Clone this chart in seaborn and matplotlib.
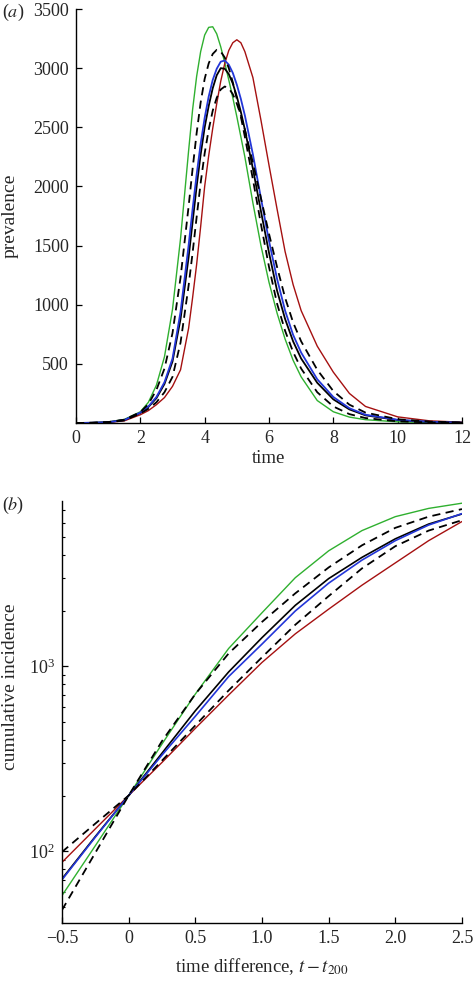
import numpy as np
import pandas as pd
import matplotlib
matplotlib.use("Agg")
import matplotlib.pyplot as plt
import seaborn as sns
from matplotlib.ticker import NullFormatter, LogLocator

# panel (a): prevalence against time
time_a = [0, 0.5, 1, 1.5, 2, 2.25, 2.5, 2.75, 3, 3.25, 3.5, 3.625, 3.75, 3.875, 4, 4.125,
          4.25, 4.375, 4.5, 4.625, 4.75, 4.875, 5, 5.125, 5.25, 5.5, 5.75, 6, 6.25, 6.5,
          6.75, 7, 7.5, 8, 8.5, 9, 10, 11, 12]
prev_green = [0, 2, 8, 30, 95, 175, 320, 560, 960, 1560, 2300, 2650, 2930, 3140, 3280, 3345,
              3350, 3290, 3180, 3045, 2900, 2750, 2590, 2420, 2250, 1860, 1500, 1190, 930, 710,
              530, 390, 190, 95, 50, 28, 10, 4, 2]
prev_dash_hi = [0, 2, 8, 28, 92, 160, 280, 460, 760, 1230, 1830, 2150, 2450, 2710, 2910, 3040,
                3120, 3155, 3140, 3090, 3000, 2880, 2740, 2590, 2420, 2060, 1680, 1320, 1010, 780,
                600, 460, 260, 140, 75, 42, 14, 5, 2]
prev_black = [0, 2, 7, 25, 85, 135, 210, 330, 520, 880, 1400, 1700, 2000, 2270, 2500, 2680,
              2830, 2940, 3000, 2995, 2950, 2870, 2760, 2630, 2480, 2150, 1790, 1440, 1120, 880,
              690, 545, 340, 200, 115, 65, 25, 9, 3]
prev_blue = [0, 2, 7, 25, 88, 140, 220, 345, 545, 940, 1500, 1810, 2100, 2360, 2580, 2760,
             2900, 2995, 3055, 3065, 3030, 2960, 2860, 2740, 2600, 2270, 1900, 1540, 1220, 950,
             745, 595, 370, 220, 125, 70, 27, 10, 3]
prev_dash_lo = [0, 2, 6, 22, 80, 120, 175, 260, 390, 680, 1160, 1440, 1740, 2030, 2280, 2480,
                2640, 2750, 2820, 2845, 2830, 2780, 2700, 2600, 2480, 2200, 1900, 1600, 1320, 1060,
                850, 690, 450, 270, 155, 88, 32, 12, 4]
prev_red = [0, 1, 5, 18, 70, 105, 155, 215, 310, 450, 800, 1060, 1340, 1660, 2000, 2260,
            2490, 2700, 2890, 3040, 3150, 3215, 3240, 3215, 3140, 2920, 2560, 2180, 1810, 1450,
            1170, 950, 650, 430, 250, 140, 52, 18, 7]

# panel (b): cumulative incidence against t - t200
time_b = [-0.5, -0.25, 0, 0.25, 0.5, 0.75, 1.0, 1.25, 1.5, 1.75, 2.0, 2.25, 2.5]
cum_green = [57.5, 107, 200, 380, 708, 1250, 1950, 3020, 4220, 5430, 6460, 7160, 7640]
cum_dash_a = [48, 98, 200, 394, 708, 1175, 1740, 2485, 3430, 4520, 5620, 6460, 7100]
cum_dash_b = [99, 141, 200, 309, 479, 741, 1120, 1680, 2400, 3390, 4470, 5430, 6180]
cum_black = [70.8, 120, 200, 339, 575, 933, 1430, 2140, 2985, 3890, 4900, 5890, 6680]
cum_blue = [70, 119, 200, 331, 537, 881, 1320, 1995, 2820, 3760, 4790, 5820, 6710]
cum_red = [87, 132, 200, 302, 462, 700, 1050, 1500, 2040, 2750, 3630, 4790, 6080]

xticks_a = [0, 2, 4, 6, 8, 10, 12]
yticks_a = [500, 1000, 1500, 2000, 2500, 3000, 3500]
xticks_b = [-0.5, 0, 0.5, 1.0, 1.5, 2.0, 2.5]
xlabels_b = ["\u22120.5", "0", "0.5", "1.0", "1.5", "2.0", "2.5"]

GREEN = "#2fb02f"
RED = "#a51010"
BLUE = "#2336d8"

sns.set_style("ticks")
plt.rcParams["font.family"] = ["Liberation Serif", "DejaVu Serif"]
plt.rcParams["mathtext.fontset"] = "stix"
plt.rcParams["font.size"] = 12

fig = plt.figure(figsize=(4.73, 9.81), dpi=100)
ax1 = fig.add_axes([0.1607, 0.5688, 0.816, 0.422])
ax2 = fig.add_axes([0.131, 0.0594, 0.8457, 0.4304])

def draw(ax, x, series):
    for y, col, ls, lw in series:
        sns.lineplot(x=x, y=y, ax=ax, color=col, linestyle=ls, linewidth=lw)

dash = (0, (4.5, 3))
draw(ax1, time_a, [
    (prev_green, GREEN, "-", 1.0),
    (prev_red, RED, "-", 1.0),
    (prev_black, "black", "-", 1.3),
    (prev_blue, BLUE, "-", 1.3),
    (prev_dash_hi, "black", dash, 1.3),
    (prev_dash_lo, "black", dash, 1.3),
])
draw(ax2, time_b, [
    (cum_green, GREEN, "-", 1.0),
    (cum_red, RED, "-", 1.0),
    (cum_black, "black", "-", 1.2),
    (cum_blue, BLUE, "-", 1.2),
    (cum_dash_a, "black", dash, 1.3),
    (cum_dash_b, "black", dash, 1.3),
])

ax1.set_xlim(0, 12)
ax1.set_ylim(0, 3500)
ax1.set_xticks(xticks_a)
ax1.set_yticks(yticks_a)
ax1.set_xlabel("time", fontsize=13.5, labelpad=2)
ax1.set_ylabel("prevalence", fontsize=14)
ax1.yaxis.set_label_coords(-0.148, 0.5)

ax2.set_yscale("log")
ax2.set_xlim(-0.5, 2.5)
ax2.set_ylim(41, 7900)
ax2.set_xticks(xticks_b)
ax2.set_xticklabels(xlabels_b)
ax2.yaxis.set_major_locator(LogLocator(base=10))
ax2.yaxis.set_minor_locator(LogLocator(base=10, subs=np.arange(2, 10)))
ax2.yaxis.set_minor_formatter(NullFormatter())
ax2.set_xlabel("time difference, $t-t_{200}$", fontsize=13.5, labelpad=7)
ax2.set_ylabel("cumulative incidence", fontsize=14)
ax2.yaxis.set_label_coords(-0.108, 0.56)

for ax in (ax1, ax2):
    sns.despine(ax=ax)
    for s in ("left", "bottom"):
        ax.spines[s].set_linewidth(1.0)
        ax.spines[s].set_color("black")
    ax.tick_params(which="major", direction="in", length=4, width=0.9,
                   labelsize=13, color="black", pad=5)
    ax.tick_params(which="minor", direction="in", length=2.5, width=0.8, color="black")

fig.text(0.004, 0.987, "($a$)", fontsize=13, va="center", ha="left")
fig.text(0.004, 0.485, "($b$)", fontsize=13, va="center", ha="left")

fig.savefig("out.png", dpi=100)
